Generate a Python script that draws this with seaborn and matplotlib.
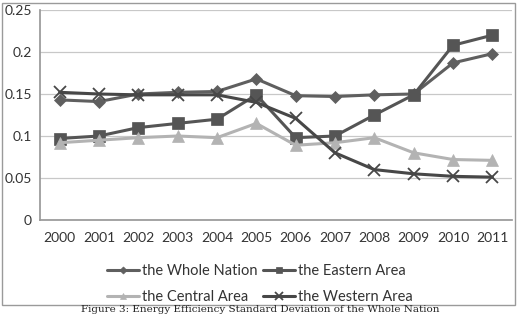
import numpy as np
import pandas as pd
import seaborn as sns
import matplotlib.pyplot as plt
from matplotlib.patches import Rectangle

years = [str(y) for y in range(2000, 2012)]
whole = [0.143, 0.141, 0.150, 0.152, 0.153, 0.168, 0.148, 0.147, 0.149, 0.150, 0.187, 0.198]
eastern = [0.097, 0.100, 0.110, 0.115, 0.120, 0.149, 0.098, 0.100, 0.125, 0.149, 0.208, 0.220]
central = [0.092, 0.095, 0.098, 0.100, 0.098, 0.115, 0.089, 0.092, 0.098, 0.080, 0.072, 0.071]
western = [0.152, 0.150, 0.149, 0.149, 0.149, 0.140, 0.121, 0.080, 0.060, 0.055, 0.052, 0.051]
names = ["the Whole Nation", "the Eastern Area", "the Central Area", "the Western Area"]

rows = []
for name, vals in zip(names, [whole, eastern, central, western]):
    for i, v in enumerate(vals):
        rows.append({"idx": i, "value": v, "series": name})
df = pd.DataFrame(rows)

sns.set_theme(style="white")
plt.rcParams['font.family'] = ['Lato', 'DejaVu Sans']

fig = plt.figure(figsize=(5.2, 3.14), dpi=100)
ax = fig.add_axes([40 / 520, 1 - 220 / 314, 472 / 520, 210 / 314])

palette = {names[0]: "#5f5f5f", names[1]: "#555555", names[2]: "#b3b3b3", names[3]: "#474747"}
markers = {names[0]: "D", names[1]: "s", names[2]: "^", names[3]: "x"}
sizes = {names[0]: 6, names[1]: 8, names[2]: 8, names[3]: 9}

for name in names:
    sub = df[df.series == name]
    sns.lineplot(data=sub, x="idx", y="value", ax=ax, color=palette[name],
                 marker=markers[name], markersize=sizes[name], linewidth=2.2,
                 markeredgewidth=1.3 if name == names[3] else 0.5,
                 markeredgecolor=palette[name], label=name, legend=False)

ax.set_xlim(-0.5, 11.5)
ax.set_ylim(0, 0.25)
ax.set_yticks([0, 0.05, 0.1, 0.15, 0.2, 0.25])
ax.set_yticklabels(["0", "0.05", "0.1", "0.15", "0.2", "0.25"])
ax.set_xticks(range(12))
ax.set_xticklabels(years)
ax.set_xticks(np.arange(-0.5, 12, 1), minor=True)
ax.tick_params(axis="x", which="major", length=0, pad=9, labelsize=10, colors="#333333")
ax.tick_params(axis="x", which="minor", length=4, width=0.8, color="#999999", direction="out")
ax.tick_params(axis="y", length=0, labelsize=10, colors="#333333", pad=6)
ax.set_xlabel("")
ax.set_ylabel("")
ax.grid(axis="y", color="#c8c8c8", linewidth=0.9)
ax.set_axisbelow(True)
for s in ["top", "right"]:
    ax.spines[s].set_visible(False)
ax.spines["left"].set_color("#999999")
ax.spines["bottom"].set_color("#999999")

handles, labels = ax.get_legend_handles_labels()
order = [0, 2, 1, 3]
fig.legend([handles[i] for i in order], [labels[i] for i in order],
           loc="center", bbox_to_anchor=(0.5, 1 - 284 / 314), ncol=2,
           frameon=False, fontsize=10.5, handlelength=2.2, handletextpad=0.2,
           columnspacing=0.4, labelspacing=0.85, labelcolor="#333333",
           markerscale=0.6)

fig.patches.append(Rectangle((2 / 520, 1 - 305 / 314), 513 / 520, 302 / 314,
                             transform=fig.transFigure, fill=False,
                             edgecolor="#9a9a9a", linewidth=1.0))

fig.text(0.5, 0.3 / 314, "Figure 3: Energy Efficiency Standard Deviation of the Whole Nation",
         ha="center", va="bottom", fontsize=7.5, family="DejaVu Serif", color="#222222")

fig.savefig("out.png", dpi=100)
